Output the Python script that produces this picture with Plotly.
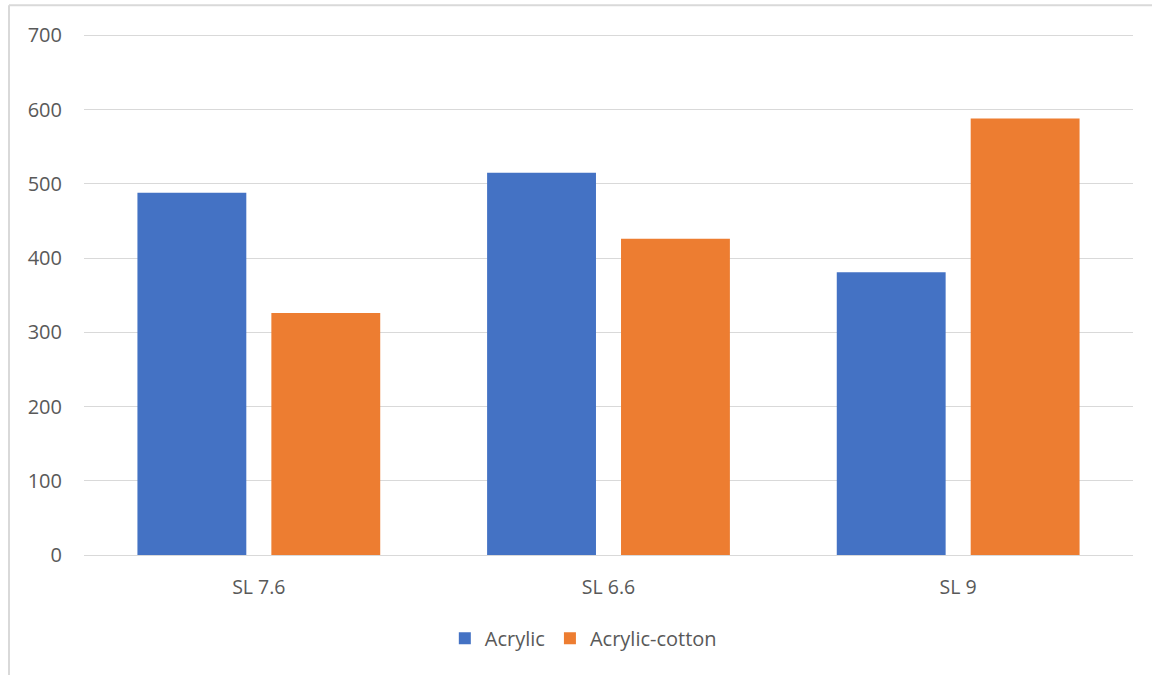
import plotly.graph_objects as go

# Stitch-length groups and values for each yarn type
categories = ["SL 7.6", "SL 6.6", "SL 9"]
acrylic = [488, 515, 381]
acrylic_cotton = [326, 426, 588]
y_ticks = [0, 100, 200, 300, 400, 500, 600, 700]

FONT = "Open Sans"
TEXT_GRAY = "#595959"
GRID = "#d9d9d9"

fig = go.Figure()
fig.add_trace(go.Bar(
    name="Acrylic", x=categories, y=acrylic,
    marker=dict(color="#4472C4", line=dict(width=0)),
))
fig.add_trace(go.Bar(
    name="Acrylic-cotton", x=categories, y=acrylic_cotton,
    marker=dict(color="#ED7D31", line=dict(width=0)),
))

# Light frame around the chart area (left and top edges)
frame = dict(color=GRID, width=2)
fig.add_shape(type="line", xref="paper", yref="paper",
              x0=-0.0715, x1=-0.0715, y0=1.055, y1=-0.24, line=frame, layer="below")
fig.add_shape(type="line", xref="paper", yref="paper",
              x0=-0.0715, x1=1.03, y0=1.055, y1=1.055, line=frame, layer="below")

fig.update_layout(
    width=1152, height=675,
    margin=dict(l=84, r=19, t=34, b=120),
    paper_bgcolor="white", plot_bgcolor="white",
    barmode="group", bargap=0.234, bargroupgap=0.187,
    font=dict(family=FONT, size=20, color=TEXT_GRAY),
    showlegend=True,
    legend=dict(orientation="h", x=0.476, xanchor="center", y=-0.16, yanchor="middle",
                font=dict(family=FONT, size=20, color=TEXT_GRAY),
                itemwidth=30, tracegroupgap=10, traceorder="normal"),
    xaxis=dict(showgrid=False, showline=False, ticks="", zeroline=False,
               ticklabelstandoff=18, tickfont=dict(size=19.5, color=TEXT_GRAY)),
    yaxis=dict(range=[0, 702], tickvals=y_ticks, showgrid=True, gridcolor=GRID,
               gridwidth=1.3, zeroline=True, zerolinecolor=GRID, zerolinewidth=1.3,
               showline=False, ticks="", ticklabelstandoff=21,
               tickfont=dict(size=20, color=TEXT_GRAY)),
)

fig.write_html("out.html")
